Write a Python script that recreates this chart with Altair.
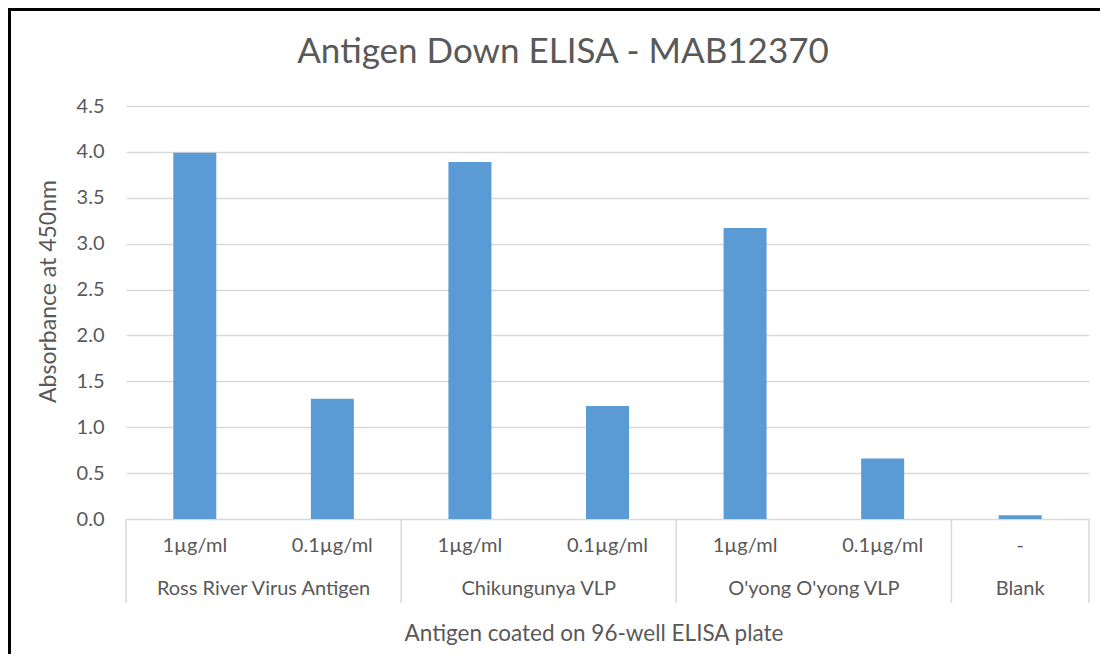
import altair as alt
import pandas as pd

concentrations = ["1µg/ml", "0.1µg/ml", "1µg/ml", "0.1µg/ml", "1µg/ml", "0.1µg/ml", "-"]
groups = ["Ross River Virus Antigen", "Ross River Virus Antigen",
          "Chikungunya VLP", "Chikungunya VLP",
          "O'yong O'yong VLP", "O'yong O'yong VLP", "Blank"]
absorbance = [3.99, 1.31, 3.89, 1.23, 3.17, 0.66, 0.04]
y_ticks = [0, 0.5, 1.0, 1.5, 2.0, 2.5, 3.0, 3.5, 4.0, 4.5]

FONT = "Lato"
GRAY = "#595959"
W, H = 963, 413

df = pd.DataFrame({"conc": concentrations, "group": groups, "value": absorbance})
df["pos"] = [i + 0.5 for i in range(len(df))]

# group centers and boundaries
gdf = df.groupby("group", sort=False)["pos"].agg(["min", "max", "count"]).reset_index()
gdf["center"] = (gdf["min"] + gdf["max"]) / 2
bounds = [0.0] + list(gdf["count"].cumsum().astype(float))
bdf = pd.DataFrame({"b": bounds})

xscale = alt.Scale(domain=[0, len(df)], nice=False, zero=False, padding=0)
yscale = alt.Scale(domain=[0, 4.5], nice=False)

bars = alt.Chart(df).mark_bar(size=43, color="#5b9bd5").encode(
    x=alt.X("pos:Q", scale=xscale, axis=None),
    y=alt.Y("value:Q", scale=yscale,
            axis=alt.Axis(values=y_ticks, format=".1f", ticks=False, domain=False,
                          grid=True, gridColor="#d9d9d9", gridWidth=1.3,
                          labelFont=FONT, labelFontSize=20, labelColor=GRAY,
                          labelPadding=22,
                          title="Absorbance at 450nm", titleFont=FONT,
                          titleFontSize=23, titleFontWeight="normal", titleColor=GRAY,
                          titleX=-78, titleY=185, titleAngle=-90,
                          titleBaseline="middle", titleAlign="center")),
)

sub_labels = alt.Chart(df).mark_text(font=FONT, fontSize=20, color=GRAY, baseline="middle").encode(
    x=alt.X("pos:Q", scale=xscale),
    y=alt.value(440),
    text="conc:N",
)

group_labels = alt.Chart(gdf).mark_text(font=FONT, fontSize=20, color=GRAY, baseline="middle").encode(
    x=alt.X("center:Q", scale=xscale),
    y=alt.value(483),
    text="group:N",
)

separators = alt.Chart(bdf).mark_rule(color="#d9d9d9", strokeWidth=1.5).encode(
    x=alt.X("b:Q", scale=xscale),
    y=alt.value(413),
    y2=alt.value(497),
)

one = pd.DataFrame({"t": ["Antigen coated on 96-well ELISA plate"],
                    "h": ["Antigen Down ELISA - MAB12370"]})

x_title = alt.Chart(one).mark_text(font=FONT, fontSize=22.5, color=GRAY, baseline="middle").encode(
    x=alt.value(468), y=alt.value(528), text="t:N")

main_title = alt.Chart(one).mark_text(font=FONT, fontSize=35, color=GRAY, baseline="middle").encode(
    x=alt.value(437), y=alt.value(-54), text="h:N")

border_top = alt.Chart(one).mark_rule(color="black", strokeWidth=3).encode(
    x=alt.value(-118), x2=alt.value(W + 20), y=alt.value(-96.5))
border_left = alt.Chart(one).mark_rule(color="black", strokeWidth=3).encode(
    x=alt.value(-116.5), y=alt.value(-98), y2=alt.value(H + 150))

chart = alt.layer(
    bars, separators, sub_labels, group_labels, x_title, main_title, border_top, border_left
).properties(
    width=W, height=H,
    autosize=alt.AutoSizeParams(type="none"),
    padding={"left": 118, "top": 98, "right": 11, "bottom": 135},
    background="white",
).configure_view(stroke=None)

chart.save("out.html", embed_options={"renderer": "svg", "actions": False})
